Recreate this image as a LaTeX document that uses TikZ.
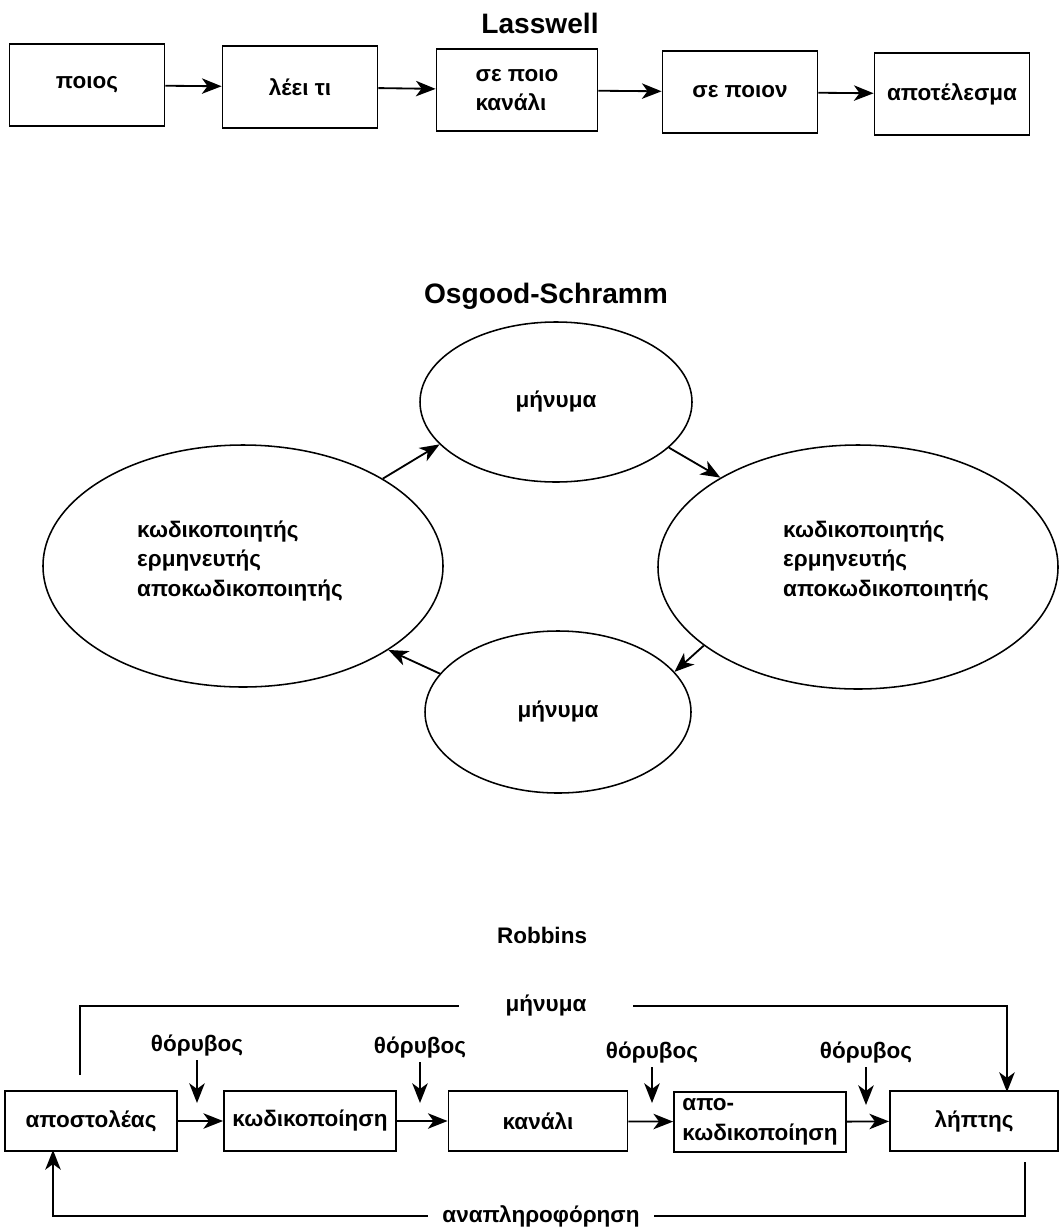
\documentclass[tikz,border=0pt]{standalone}
\usepackage{fontspec}
\setmainfont{Liberation Sans}
\usetikzlibrary{arrows.meta,shapes.geometric}
\newcommand{\px}{0.025cm}
\newcommand{\txtfont}{\fontsize{16}{21}\selectfont\bfseries}
\newcommand{\ttlfont}{\fontsize{20}{24}\selectfont\bfseries}

\begin{document}
\begin{tikzpicture}[x=0.025cm, y=-0.025cm, line width=1.3pt,
  lbox/.style={draw, inner sep=0pt, minimum width=155*\px, minimum height=82*\px, font=\txtfont, align=left},
  rbox/.style={draw, inner sep=0pt, minimum width=172*\px, minimum height=60*\px, font=\txtfont, align=left},
  ell/.style={draw, ellipse, inner sep=0pt, line width=1.1pt, font=\txtfont},
  arr/.style={-{Stealth[length=14pt,width=11pt,inset=4pt]}},
  ttl/.style={font=\ttlfont, anchor=base},
  lbl/.style={font=\txtfont, inner sep=2pt, align=left}]

\useasboundingbox (0,0) rectangle (1060,1230);

% Lasswell
\node[ttl] (lasswell) at (540,33) {Lasswell};
\node[lbox] (who) at (87,85) {ποιος};
\node[lbox] (says) at (300,87) {λέει τι};
\node[lbox, minimum width=161*\px] (channel) at (517,90) {σε ποιο\\κανάλι};
\node[lbox] (whom) at (740,92) {σε ποιον};
\node[lbox] (effect) at (952,94) {αποτέλεσμα};
\draw[arr] (who) -- (says);
\draw[arr] (says) -- (channel);
\draw[arr] (channel) -- (whom);
\draw[arr] (whom) -- (effect);

% Osgood-Schramm
\node[ttl] (osgood) at (546,303) {Osgood-Schramm};
\node[ell, minimum width=272*\px, minimum height=160*\px] (msgtop) at (556,402) {μήνυμα};
\node[ell, minimum width=266*\px, minimum height=162*\px] (msgbot) at (558,712) {μήνυμα};
\node[ell, minimum width=400*\px, minimum height=242*\px] (coderA) at (243,566) {};
\node[ell, minimum width=400*\px, minimum height=244*\px] (coderB) at (858,567) {};
\node[lbl] (coderAtext) at (240,561) {κωδικοποιητής\\ερμηνευτής\\αποκωδικοποιητής};
\node[lbl] (coderBtext) at (886,561) {κωδικοποιητής\\ερμηνευτής\\αποκωδικοποιητής};
\draw[arr] (coderA.32) -- (msgtop.200);
\draw[arr] (msgtop.338) -- (coderB.147);
\draw[arr] (coderB.207) -- (msgbot.19);
\draw[arr] (msgbot.162) -- (coderA.330);

% Robbins
\node[ttl, font=\txtfont] (robbins) at (542,943) {Robbins};
\node[rbox] (sender) at (91,1121) {αποστολέας};
\node[rbox] (encode) at (310,1121) {κωδικοποίηση};
\node[rbox, minimum width=179*\px] (medium) at (538,1121) {κανάλι};
\node[rbox] (decode) at (760,1122) {απο-\\κωδικοποίηση};
\node[rbox, minimum width=168*\px] (receiver) at (974,1121) {λήπτης};
\draw[arr] (sender) -- (encode);
\draw[arr] (encode) -- (medium);
\draw[arr] (medium) -- (decode);
\draw[arr] (decode) -- (receiver);

% noise
\node[lbl] (noise1) at (197,1046) {θόρυβος};
\node[lbl] (noise2) at (420,1048) {θόρυβος};
\node[lbl] (noise3) at (652,1053) {θόρυβος};
\node[lbl] (noise4) at (866,1053) {θόρυβος};
\coordinate (hit1) at (197,1103);
\coordinate (hit2) at (420,1103);
\coordinate (hit3) at (652,1103);
\coordinate (hit4) at (866,1105);
\draw[arr] (noise1) -- (hit1);
\draw[arr] (noise2) -- (hit2);
\draw[arr] (noise3) -- (hit3);
\draw[arr] (noise4) -- (hit4);

% message and feedback
\node[lbl, inner xsep=46*\px] (msg) at (546,1006) {μήνυμα};
\coordinate (msgstart) at (80,1075);
\coordinate (msgend) at (1007,1092);
\draw (msgstart) |- (msg.west);
\draw[arr] (msg.east) -| (msgend);
\node[lbl, inner xsep=14*\px] (feedback) at (541,1216) {αναπληροφόρηση};
\coordinate (fbstart) at (1025,1162);
\coordinate (fbend) at (53,1150);
\draw (fbstart) |- (feedback.east);
\draw[arr] (feedback.west) -| (fbend);

\end{tikzpicture}
\end{document}
